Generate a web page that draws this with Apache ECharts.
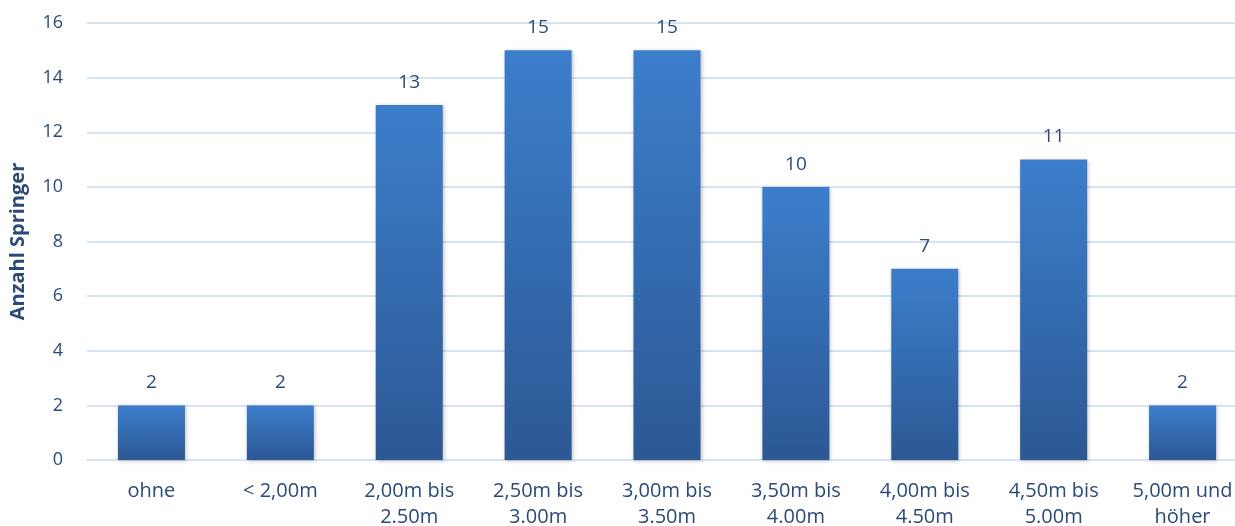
<!DOCTYPE html>
<html><head><meta charset="utf-8">
<script src="https://cdn.jsdelivr.net/npm/echarts@6/dist/echarts.min.js"></script>
<style>html,body{margin:0;padding:0;background:#fff;overflow:hidden}#c{width:1235px;height:526px}</style>
</head><body><div id="c"></div>
<script>
const categories = ['ohne', '< 2,00m', '2,00m bis\n2.50m', '2,50m bis\n3.00m', '3,00m bis\n3.50m', '3,50m bis\n4.00m', '4,00m bis\n4.50m', '4,50m bis\n5.00m', '5,00m und\nhöher'];
const values = [2, 2, 13, 15, 15, 10, 7, 11, 2];
const yAxisName = 'Anzahl Springer';
const yMin = 0, yMax = 16, yStep = 2;

const textColor = '#2c4a78';
const font = 'Open Sans';
const chart = echarts.init(document.getElementById('c'));
chart.setOption({
  animation: false,
  grid: { left: 87, width: 1160, top: 23, height: 437, outerBoundsMode: 'none' },
  xAxis: {
    type: 'category', data: categories,
    axisLine: { show: true, lineStyle: { color: '#d6e3f3', width: 2 } },
    axisTick: { show: false },
    axisLabel: { color: textColor, fontFamily: font, fontSize: 20, lineHeight: 26, margin: 18, interval: 0 }
  },
  yAxis: {
    type: 'value', min: yMin, max: yMax, interval: yStep,
    name: yAxisName, nameLocation: 'middle', nameGap: 59, nameRotate: 90,
    nameTextStyle: { color: textColor, fontFamily: font, fontSize: 20, fontWeight: 'bold' },
    axisLine: { show: false }, axisTick: { show: false },
    axisLabel: { color: textColor, fontFamily: font, fontSize: 18, margin: 24 },
    splitLine: { lineStyle: { color: '#d6e3f3', width: 2 } }
  },
  series: [{
    type: 'bar', data: values, barWidth: '52%',
    itemStyle: {
      color: new echarts.graphic.LinearGradient(0, 0, 0, 1, [
        { offset: 0, color: '#3c7ecc' },
        { offset: 1, color: '#2c5894' }
      ]),
      shadowBlur: 4, shadowColor: 'rgba(0,0,0,0.25)', shadowOffsetX: 1, shadowOffsetY: 1
    },
    label: { show: true, position: 'top', distance: 13, color: textColor, fontFamily: font, fontSize: 19 }
  }]
});
</script></body></html>
